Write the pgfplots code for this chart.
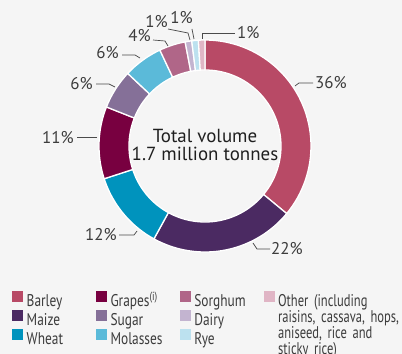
\documentclass[border=0pt]{standalone}
\usepackage{pgfplots}
\pgfplotsset{compat=1.18}
\usepackage{fontspec}
\setmainfont{PT Sans}
\newfontfamily\legfont{PT Sans}[FakeStretch=0.79]
\newfontfamily\othfont{PT Sans}[FakeStretch=0.74]
\definecolor{barley}{HTML}{B84A66}
\definecolor{maize}{HTML}{4B2A62}
\definecolor{wheat}{HTML}{0093BD}
\definecolor{grapes}{HTML}{780040}
\definecolor{sugar}{HTML}{857098}
\definecolor{molasses}{HTML}{5BBAD9}
\definecolor{sorghum}{HTML}{B06688}
\definecolor{dairy}{HTML}{C3B4D0}
\definecolor{rye}{HTML}{BCE1EF}
\definecolor{other}{HTML}{E0B5C5}
\definecolor{bgc}{HTML}{F5F5F5}
\definecolor{labc}{HTML}{3C3C3C}
\definecolor{leadc}{HTML}{4A4A4A}
% wedge: colour, start percent, end percent (clockwise from 12 o'clock)
\newcommand{\wedgeplot}[3]{%
\addplot[forget plot, fill=#1, draw=white, line width=1.3bp, samples at={0,1,...,101}, variable=\t]
 ({205+(\t<50.5?106:76)*cos(90-3.6*(#2+(#3-#2)*(\t<50.5?\t/50:(101-\t)/50)))},
  {208+(\t<50.5?106:76)*sin(90-3.6*(#2+(#3-#2)*(\t<50.5?\t/50:(101-\t)/50)))}) -- cycle;
}
\newcommand{\lbl}{\fontsize{17}{17}\selectfont}
\begin{document}
\begin{tikzpicture}
\begin{axis}[
  x=1bp, y=1bp, xmin=0, xmax=402, ymin=0, ymax=354,
  hide axis, clip=false,
  legend image code/.code={\fill[#1,draw=none] (0bp,0bp) rectangle (11bp,11bp);},
  legend columns=4, legend cell align=left,
  legend style={draw=none, fill=none, at={(0.0299,0.178)}, anchor=north west,
    inner sep=0pt, font=\legfont\fontsize{17}{17}\selectfont, text=labc, row sep=0bp,
    nodes={inner sep=1bp, text width=61bp, text height=11.5bp, text depth=2bp},
    /tikz/every odd column/.append style={column sep=2.5bp},
    /tikz/every even column/.append style={column sep=7.3bp}},
]
\fill[bgc] (rel axis cs:0,0) rectangle (rel axis cs:1,1);
\wedgeplot{barley}{0}{36}
\wedgeplot{maize}{36}{58}
\wedgeplot{wheat}{58}{70}
\wedgeplot{grapes}{70}{81}
\wedgeplot{sugar}{81}{87}
\wedgeplot{molasses}{87}{93}
\wedgeplot{sorghum}{93}{97}
\wedgeplot{dairy}{97}{98}
\wedgeplot{rye}{98}{99}
\wedgeplot{other}{99}{100}
% legend (row by row, four columns)
\addlegendimage{fill=barley}\addlegendentry{Barley}
\addlegendimage{fill=grapes}\addlegendentry{Grapes\textsuperscript{(i)}}
\addlegendimage{fill=sorghum}\addlegendentry{Sorghum}
\addlegendimage{fill=other}\addlegendentry{\smash{\parbox[t]{135bp}{\othfont\baselineskip=16bp Other (including\\raisins, cassava, hops,\\aniseed, rice and\\sticky rice)}}}
\addlegendimage{fill=maize}\addlegendentry{Maize}
\addlegendimage{fill=sugar}\addlegendentry{Sugar}
\addlegendimage{fill=dairy}\addlegendentry{Dairy}
\addlegendimage{empty legend}\addlegendentry{}
\addlegendimage{fill=wheat}\addlegendentry{Wheat}
\addlegendimage{fill=molasses}\addlegendentry{Molasses}
\addlegendimage{fill=rye}\addlegendentry{Rye}
% leader lines
\addplot[forget plot, leadc, line width=0.7bp] coordinates {(295,268) (299,271) (313,271)};
\addplot[forget plot, leadc, line width=0.7bp] coordinates {(253,111) (257,105) (270,105)};
\addplot[forget plot, leadc, line width=0.7bp] coordinates {(137,123) (134,119) (119,119)};
\addplot[forget plot, leadc, line width=0.7bp] coordinates {(97,217) (77,217)};
\addplot[forget plot, leadc, line width=0.7bp] coordinates {(115,267) (109,270) (96,270)};
\addplot[forget plot, leadc, line width=0.7bp] coordinates {(140,296) (135,299) (122,299)};
\addplot[forget plot, leadc, line width=0.7bp] coordinates {(168,308) (165,313) (153,314)};
\addplot[forget plot, leadc, line width=0.7bp] coordinates {(190,314) (188,321) (168,325)};
\addplot[forget plot, leadc, line width=0.7bp] coordinates {(194,315) (192,325)};
\addplot[forget plot, leadc, line width=0.7bp] coordinates {(202,315) (202,321) (235,321)};
% labels
\node[anchor=west, font=\lbl, text=labc, inner sep=1bp] at (axis cs:314,271) {36\%};
\node[anchor=west, font=\lbl, text=labc, inner sep=1bp] at (axis cs:270,105) {22\%};
\node[anchor=east, font=\lbl, text=labc, inner sep=1bp] at (axis cs:118,119) {12\%};
\node[anchor=east, font=\lbl, text=labc, inner sep=1bp] at (axis cs:75,216) {11\%};
\node[anchor=east, font=\lbl, text=labc, inner sep=1bp] at (axis cs:94,270) {6\%};
\node[anchor=east, font=\lbl, text=labc, inner sep=1bp] at (axis cs:120,301) {6\%};
\node[anchor=east, font=\lbl, text=labc, inner sep=1bp] at (axis cs:152,318) {4\%};
\node[anchor=east, font=\lbl, text=labc, inner sep=1bp] at (axis cs:169,332) {1\%};
\node[anchor=east, font=\lbl, text=labc, inner sep=1bp] at (axis cs:194,336) {1\%};
\node[anchor=west, font=\lbl, text=labc, inner sep=1bp] at (axis cs:236,321) {1\%};
\node[align=center, font=\fontsize{19}{17.5}\selectfont, text=black!88] at (axis cs:205,209) {Total volume\\1.7 million tonnes};
\end{axis}
\end{tikzpicture}
\end{document}
